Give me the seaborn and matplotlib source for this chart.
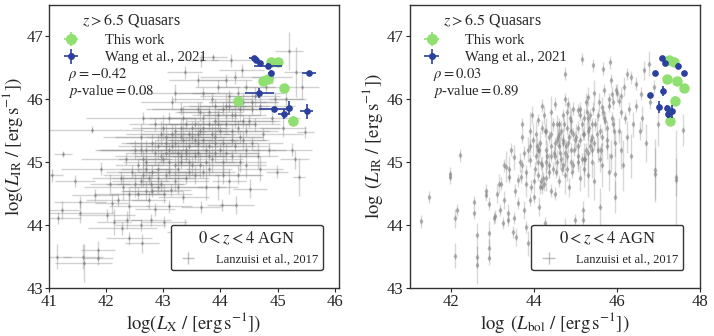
import matplotlib
matplotlib.use("Agg")
import matplotlib.pyplot as plt
import seaborn as sns
import pandas as pd

# ---- z > 6.5 quasars ----
tw_lx = [44.30, 44.74, 44.84, 44.89, 45.01, 45.11, 45.27]
tw_lbol = [47.28, 47.20, 47.46, 47.26, 47.38, 47.63, 47.41]
tw_lir = [45.97, 46.29, 46.32, 46.59, 46.60, 46.18, 45.65]
tw_lir_r = [45.65, 46.32, 46.29, 46.62, 46.60, 46.18, 45.97]
tw_err = [0.05, 0.05, 0.05, 0.05, 0.05, 0.05, 0.08]

wang_lx = [44.58, 44.63, 44.70, 44.83, 44.89, 45.55, 44.68, 44.93, 45.20, 45.11, 45.51]
wang_lx_err = [0.08, 0.05, 0.05, 0.25, 0.05, 0.12, 0.25, 0.25, 0.06, 0.10, 0.12]
wang_lir = [46.65, 46.63, 46.58, 46.53, 46.42, 46.42, 46.10, 45.85, 45.87, 45.76, 45.81]
wang_lir_err = [0.02, 0.02, 0.02, 0.05, 0.05, 0.02, 0.08, 0.02, 0.10, 0.08, 0.12]

wang_lbol = [47.08, 47.17, 47.48, 47.61, 46.91, 47.12, 46.81, 47.01, 47.20, 47.33, 47.23]
wang_lir_r = [46.65, 46.58, 46.53, 46.42, 46.42, 46.13, 46.07, 45.88, 45.86, 45.81, 45.76]
wang_lir_r_err = [0.02, 0.02, 0.05, 0.02, 0.02, 0.08, 0.02, 0.10, 0.05, 0.10, 0.05]

# ---- 0 < z < 4 AGN (Lanzuisi et al. 2017), L_X panel ----
agn_lx = [
    41.04, 41.13, 41.16, 41.22, 41.24, 41.45,
    41.54, 41.54, 41.59, 41.60, 41.75, 41.80, 41.85, 41.86, 41.90,
    42.01, 42.07, 42.13, 42.28, 42.37, 42.40, 42.20, 42.30, 42.45, 42.10, 42.35, 42.40, 42.25, 42.50,
    42.63, 42.60, 42.78, 42.78, 42.55, 42.65, 42.70, 42.80, 42.90, 42.95, 42.60, 42.75, 42.85, 42.90, 42.70, 42.55, 42.95, 42.65, 42.85,
    43.01, 43.01, 43.13, 43.37, 43.05, 43.10, 43.15, 43.20, 43.25, 43.30, 43.35, 43.40, 43.45, 43.05, 43.10, 43.20, 43.30, 43.40, 43.45, 43.15, 43.25, 43.35, 43.05, 43.20, 43.37, 43.45, 43.30, 43.10,
    43.66, 43.66, 43.87, 43.55, 43.60, 43.65, 43.70, 43.75, 43.80, 43.85, 43.90, 43.95, 43.55, 43.60, 43.70, 43.75, 43.80, 43.90, 43.95, 43.55, 43.65, 43.85, 43.70, 43.60, 43.80, 43.90, 43.95, 43.50,
    44.02, 44.28, 44.19, 44.37, 44.05, 44.10, 44.15, 44.20, 44.25, 44.30, 44.35, 44.40, 44.45, 44.05, 44.10, 44.20, 44.30, 44.40, 44.15, 44.45, 44.25, 44.35, 44.05, 44.45,
    44.52, 44.99, 44.55, 44.60, 44.70, 44.80, 44.65, 44.75, 44.90, 44.60, 44.85, 44.95, 44.55, 44.70, 44.90,
    45.20, 45.32, 45.43, 45.49, 45.38, 45.10, 45.25, 45.15, 45.30,
    42.60, 42.70, 42.80, 42.90, 43.00, 43.10, 43.20, 43.30, 43.40, 43.50, 43.60, 43.70, 43.80, 43.90, 44.00, 44.10, 44.20, 44.30, 44.40, 44.50,
    42.65, 42.75, 42.85, 42.95, 43.05, 43.15, 43.25, 43.35, 43.45, 43.55, 43.65, 43.75, 43.85, 43.95, 44.05, 44.15, 44.25, 44.35, 44.45, 44.55,
    42.40, 42.50, 42.60, 42.70, 42.80, 42.90, 43.00, 43.10, 43.20, 43.30, 43.40, 43.50, 43.60, 43.70, 43.80, 43.90, 44.00, 44.10, 44.20, 44.30,
]
agn_lx_err = [
    0.20, 0.25, 0.40, 0.30, 0.15, 0.35,
    0.45, 0.60, 0.35, 0.50, 0.90, 0.40, 0.30, 0.25, 0.70,
    0.50, 0.35, 0.30, 0.60, 0.25, 0.40, 0.55, 0.70, 0.45, 0.30, 0.80, 0.35, 0.50, 0.60,
    0.30, 0.45, 0.35, 0.60, 0.50, 0.70, 0.40, 0.55, 0.35, 0.80, 0.65, 0.30, 0.45, 0.50, 0.90, 0.40, 0.60, 1.00, 0.35,
    0.40, 0.50, 0.35, 0.30, 0.60, 0.45, 0.70, 0.55, 0.40, 0.80, 0.50, 0.65, 0.35, 0.90, 0.45, 0.60, 0.50, 0.40, 0.75, 0.55, 0.35, 0.45, 0.60, 0.70, 0.30, 0.50, 0.85, 0.40,
    0.35, 0.30, 0.25, 0.55, 0.70, 0.45, 0.60, 0.50, 0.80, 0.40, 0.55, 0.65, 0.45, 0.90, 0.50, 0.35, 0.60, 0.75, 0.40, 0.55, 0.45, 0.70, 0.60, 0.50, 0.40, 0.85, 0.35, 0.60,
    0.25, 0.30, 0.35, 0.40, 0.60, 0.50, 0.70, 0.45, 0.55, 0.80, 0.40, 0.60, 0.50, 0.35, 0.45, 0.65, 0.40, 0.55, 0.30, 0.50, 0.60, 0.45, 0.75, 0.35,
    0.30, 0.20, 0.55, 0.45, 0.60, 0.40, 0.35, 0.70, 0.50, 0.45, 0.30, 0.55, 0.65, 0.40, 0.35,
    0.25, 0.20, 0.30, 0.15, 0.10, 0.40, 0.35, 0.30, 0.25,
    0.50, 0.40, 0.60, 0.70, 0.45, 0.55, 0.80, 0.40, 0.65, 0.50, 0.60, 0.45, 0.70, 0.55, 0.40, 0.60, 0.50, 0.75, 0.45, 0.55,
    0.45, 0.65, 0.50, 0.40, 0.70, 0.55, 0.45, 0.60, 0.80, 0.50, 0.40, 0.65, 0.55, 0.45, 0.70, 0.50, 0.60, 0.40, 0.55, 0.45,
    0.60, 0.50, 0.75, 0.45, 0.55, 0.65, 0.40, 0.70, 0.50, 0.60, 0.45, 0.85, 0.55, 0.40, 0.65, 0.50, 0.70, 0.45, 0.60, 0.50,
]
agn_lir = [
    44.79, 43.50, 44.11, 44.24, 45.13, 44.70,
    44.37, 44.19, 43.50, 43.40, 45.52, 44.48, 43.60, 43.47, 44.90,
    44.16, 44.66, 44.05, 43.95, 44.08, 43.79, 44.40, 44.60, 44.85, 44.35, 45.05, 44.30, 44.75, 45.20,
    43.71, 44.00, 44.08, 44.66, 44.50, 44.80, 45.00, 45.30, 44.90, 45.10, 45.40, 44.40, 45.60, 44.60, 45.20, 44.95, 45.45, 45.70, 44.25,
    44.05, 44.50, 44.56, 43.89, 44.80, 45.00, 45.25, 45.50, 44.90, 45.10, 45.35, 45.60, 45.00, 45.40, 45.70, 44.70, 45.85, 44.75, 45.25, 45.95, 45.15, 44.45, 45.15, 46.10, 46.43, 45.45, 45.55, 44.30,
    44.29, 46.62, 46.67, 45.10, 45.30, 45.50, 45.70, 45.00, 45.25, 45.45, 45.90, 45.60, 44.80, 45.85, 46.10, 44.60, 45.80, 45.15, 46.20, 45.60, 44.95, 46.00, 45.35, 46.30, 44.90, 45.40, 44.60, 45.40,
    44.32, 44.32, 46.62, 46.46, 45.30, 45.60, 45.90, 45.10, 45.75, 46.10, 45.40, 45.95, 45.20, 45.00, 46.30, 45.50, 44.80, 45.65, 44.70, 46.20, 46.35, 45.00, 45.85, 44.95,
    44.58, 44.85, 45.30, 45.60, 45.90, 46.20, 45.10, 45.45, 45.70, 46.05, 45.20, 46.00, 45.85, 44.90, 46.35,
    46.77, 46.43, 46.20, 45.48, 44.77, 45.55, 45.20, 46.00, 45.05,
    44.70, 44.55, 44.85, 45.25, 45.05, 44.85, 45.30, 45.00, 45.20, 45.55, 45.15, 44.85, 45.60, 45.30, 45.50, 45.15, 45.75, 45.55, 45.35, 45.65,
    45.05, 44.75, 45.15, 44.65, 45.30, 45.45, 44.60, 45.70, 44.85, 45.35, 45.80, 45.20, 45.05, 45.75, 44.80, 46.05, 45.25, 45.85, 45.50, 45.95,
    44.50, 44.65, 45.20, 44.90, 44.55, 44.75, 45.55, 45.20, 44.95, 45.40, 45.15, 44.95, 45.45, 45.55, 45.10, 45.65, 45.20, 45.90, 45.35, 45.95,
]
agn_lir_err = [
    0.10, 0.20, 0.10, 0.15, 0.05, 0.10,
    0.10, 0.15, 0.20, 0.30, 0.05, 0.10, 0.15, 0.10, 0.10,
    0.10, 0.15, 0.20, 0.10, 0.15, 0.10, 0.10, 0.20, 0.10, 0.15, 0.10, 0.20, 0.10, 0.15,
    0.15, 0.10, 0.10, 0.15, 0.10, 0.20, 0.10, 0.15, 0.10, 0.10, 0.20, 0.15, 0.10, 0.10, 0.15, 0.10, 0.20, 0.10, 0.10,
    0.10, 0.15, 0.10, 0.20, 0.10, 0.15, 0.10, 0.10, 0.20, 0.10, 0.15, 0.10, 0.10, 0.20, 0.10, 0.15, 0.10, 0.10, 0.15, 0.10, 0.20, 0.10, 0.10, 0.15, 0.10, 0.10, 0.15, 0.10,
    0.10, 0.10, 0.05, 0.10, 0.15, 0.10, 0.10, 0.20, 0.10, 0.15, 0.10, 0.10, 0.15, 0.10, 0.10, 0.20, 0.10, 0.15, 0.10, 0.10, 0.20, 0.10, 0.15, 0.10, 0.10, 0.10, 0.20, 0.10,
    0.10, 0.15, 0.10, 0.10, 0.10, 0.15, 0.10, 0.10, 0.20, 0.10, 0.10, 0.15, 0.10, 0.20, 0.10, 0.10, 0.15, 0.10, 0.20, 0.10, 0.10, 0.15, 0.10, 0.20,
    0.15, 0.10, 0.10, 0.10, 0.15, 0.10, 0.20, 0.10, 0.10, 0.15, 0.10, 0.10, 0.10, 0.20, 0.10,
    0.30, 0.40, 0.20, 0.10, 0.30, 0.15, 0.10, 0.20, 0.15,
    0.10, 0.15, 0.10, 0.20, 0.10, 0.10, 0.15, 0.10, 0.20, 0.10, 0.15, 0.10, 0.10, 0.20, 0.10, 0.15, 0.10, 0.10, 0.15, 0.10,
    0.15, 0.10, 0.20, 0.10, 0.10, 0.15, 0.10, 0.20, 0.10, 0.10, 0.15, 0.10, 0.20, 0.10, 0.15, 0.10, 0.10, 0.20, 0.10, 0.15,
    0.10, 0.20, 0.10, 0.15, 0.10, 0.10, 0.20, 0.10, 0.15, 0.10, 0.10, 0.15, 0.20, 0.10, 0.10, 0.15, 0.10, 0.20, 0.10, 0.10,
]

# ---- 0 < z < 4 AGN, L_bol panel ----
agn_lbol = [
    41.28, 41.46, 41.98, 41.98,
    42.20, 42.10, 42.14, 42.10,
    42.54, 42.54, 42.61, 42.63, 42.63, 42.83, 42.91, 42.92, 42.92, 42.92, 42.85,
    43.03, 43.06, 43.15, 43.18, 43.24, 43.28, 43.28, 43.40, 43.40, 43.37, 43.37, 43.48, 43.20, 43.32, 43.45, 43.10,
    43.52, 43.56, 43.60, 43.52, 43.68, 43.72, 43.76, 43.80, 43.85, 43.89, 43.93, 43.97, 43.55, 43.65, 43.70, 43.80, 43.85, 43.90, 43.95, 43.60, 43.75, 43.90,
    44.01, 44.13, 44.27, 44.33, 44.17, 44.09, 44.05, 44.10, 44.15, 44.20, 44.25, 44.30, 44.35, 44.40, 44.45, 44.20, 44.30, 44.40, 44.45, 44.05, 44.15, 44.25, 44.35, 44.50, 44.10, 44.30, 44.40, 44.20,
    44.50, 44.50, 44.74, 44.74, 44.82, 44.55, 44.60, 44.65, 44.70, 44.75, 44.80, 44.85, 44.90, 44.95, 44.55, 44.60, 44.65, 44.70, 44.75, 44.80, 44.85, 44.90, 44.95, 44.60, 44.70, 44.80, 44.90, 44.55, 44.75, 44.95,
    45.19, 45.19, 44.98, 45.16, 45.43, 45.31, 45.07, 45.05, 45.10, 45.15, 45.20, 45.25, 45.30, 45.35, 45.40, 45.45, 45.05, 45.10, 45.20, 45.25, 45.30, 45.35, 45.40, 45.45, 45.15, 45.30, 45.45, 45.05, 45.20, 45.40,
    45.59, 45.96, 45.95, 45.84, 45.67, 45.63, 45.88, 45.55, 45.60, 45.65, 45.70, 45.75, 45.80, 45.85, 45.90, 45.95, 45.55, 45.70, 45.80, 45.90, 45.60, 45.75, 45.85, 45.65,
    46.04, 46.16, 46.33, 46.45, 46.05, 46.10, 46.20, 46.25, 46.30, 46.40, 46.15, 46.35, 46.45, 46.10, 46.25,
    46.57, 46.65, 46.77, 46.93, 46.93, 47.42, 47.42, 47.59, 46.60, 46.70, 46.80, 46.55, 46.90, 47.00,
    44.02, 44.12, 44.22, 44.32, 44.42, 44.52, 44.62, 44.72, 44.82, 44.92, 45.02, 45.12, 45.22, 45.32, 45.42, 45.52, 45.62, 45.72, 45.82, 45.92,
    44.07, 44.17, 44.27, 44.37, 44.47, 44.57, 44.67, 44.77, 44.87, 44.97, 45.07, 45.17, 45.27, 45.37, 45.47, 45.57, 45.67, 45.77, 45.87, 45.97,
    43.70, 43.80, 43.90, 44.00, 44.10, 44.20, 44.30, 44.40, 44.50, 44.60, 44.70, 44.80, 44.90, 45.00, 45.10, 45.20, 45.30, 45.40, 46.00, 46.10,
]
agn_lir_b = [
    44.06, 44.45, 44.82, 44.76,
    45.11, 44.11, 44.24, 43.51,
    44.37, 44.19, 43.84, 43.50, 43.37, 44.48, 44.34, 43.87, 43.63, 43.47, 44.55,
    44.11, 44.14, 44.66, 44.24, 44.03, 44.40, 44.95, 44.90, 44.77, 44.19, 44.08, 43.89, 44.66, 44.93, 45.20, 44.50,
    44.11, 43.81, 44.71, 45.08, 44.77, 45.40, 44.24, 43.97, 43.71, 45.03, 44.61, 45.35, 44.55, 45.00, 45.60, 44.85, 45.20, 44.40, 45.75, 44.35, 45.15, 45.50,
    44.45, 44.29, 44.03, 43.79, 44.98, 45.67, 45.10, 44.80, 45.30, 45.55, 44.65, 45.00, 45.40, 45.80, 44.90, 45.90, 45.20, 44.55, 45.60, 45.45, 44.60, 45.75, 44.85, 45.30, 45.20, 45.50, 45.10, 44.95,
    44.50, 45.93, 46.41, 43.97, 45.93, 45.00, 45.25, 45.50, 45.75, 44.80, 45.10, 45.40, 45.65, 44.95, 45.60, 44.70, 45.05, 45.30, 46.00, 45.55, 44.60, 45.20, 45.85, 45.45, 44.95, 45.80, 45.00, 45.35, 45.15, 45.45,
    44.24, 44.08, 44.08, 46.64, 46.54, 46.04, 45.83, 45.10, 45.35, 45.60, 44.90, 45.20, 45.50, 45.75, 45.00, 45.30, 45.55, 44.75, 45.45, 45.95, 44.80, 45.25, 45.60, 46.10, 45.05, 45.15, 44.70, 45.25, 45.70, 45.40,
    44.29, 44.82, 44.45, 46.59, 46.49, 45.88, 46.09, 45.20, 45.50, 44.95, 45.70, 45.35, 45.90, 45.10, 45.60, 45.30, 45.75, 46.15, 44.85, 45.95, 45.05, 45.55, 46.30, 45.40,
    45.98, 46.20, 46.35, 46.25, 45.50, 45.20, 45.70, 45.40, 45.85, 45.60, 44.95, 45.10, 45.90, 46.05, 46.40,
    46.09, 46.46, 46.57, 44.82, 44.87, 44.71, 44.77, 45.51, 45.70, 45.30, 45.95, 45.50, 46.20, 45.60,
    44.90, 45.20, 44.75, 45.10, 45.45, 44.85, 45.15, 45.60, 45.30, 44.85, 45.40, 45.75, 45.05, 45.55, 45.85, 45.45, 45.20, 45.65, 46.00, 45.50,
    45.25, 44.70, 45.50, 44.95, 45.15, 45.40, 44.90, 45.25, 45.70, 45.20, 45.00, 45.45, 45.80, 45.35, 45.60, 45.95, 45.80, 45.25, 45.70, 46.15,
    44.95, 44.65, 45.25, 44.70, 45.00, 44.60, 44.75, 45.25, 45.10, 45.60, 45.35, 44.90, 45.50, 45.35, 45.85, 45.05, 45.70, 45.20, 46.10, 45.80,
]
agn_lir_b_err = [
    0.10, 0.10, 0.10, 0.10,
    0.10, 0.15, 0.10, 0.20,
    0.10, 0.10, 0.20, 0.15, 0.30, 0.10, 0.10, 0.20, 0.15, 0.10, 0.10,
    0.10, 0.10, 0.15, 0.10, 0.10, 0.15, 0.10, 0.20, 0.10, 0.15, 0.10, 0.10, 0.10, 0.25, 0.10, 0.15,
    0.10, 0.15, 0.10, 0.20, 0.10, 0.10, 0.15, 0.10, 0.20, 0.10, 0.10, 0.25, 0.10, 0.15, 0.10, 0.10, 0.20, 0.10, 0.15, 0.10, 0.10, 0.30,
    0.10, 0.15, 0.10, 0.20, 0.10, 0.10, 0.15, 0.10, 0.20, 0.10, 0.10, 0.15, 0.10, 0.25, 0.10, 0.10, 0.15, 0.10, 0.10, 0.20, 0.10, 0.15, 0.10, 0.10, 0.10, 0.20, 0.10, 0.15,
    0.10, 0.10, 0.10, 0.15, 0.10, 0.20, 0.10, 0.15, 0.10, 0.30, 0.10, 0.10, 0.20, 0.10, 0.15, 0.10, 0.10, 0.25, 0.10, 0.10, 0.15, 0.10, 0.10, 0.20, 0.10, 0.15, 0.10, 0.10, 0.20, 0.10,
    0.15, 0.10, 0.10, 0.10, 0.10, 0.15, 0.10, 0.20, 0.10, 0.10, 0.30, 0.10, 0.15, 0.10, 0.25, 0.10, 0.10, 0.20, 0.10, 0.15, 0.35, 0.10, 0.10, 0.20, 0.10, 0.40, 0.30, 0.10, 0.15, 0.10,
    0.30, 0.40, 0.25, 0.10, 0.10, 0.15, 0.10, 0.20, 0.10, 0.35, 0.10, 0.15, 0.10, 0.25, 0.10, 0.20, 0.10, 0.10, 0.30, 0.10, 0.20, 0.10, 0.10, 0.15,
    0.10, 0.15, 0.10, 0.10, 0.20, 0.30, 0.10, 0.25, 0.10, 0.20, 0.40, 0.35, 0.10, 0.15, 0.10,
    0.10, 0.15, 0.20, 0.40, 0.50, 0.80, 0.30, 0.25, 0.20, 0.30, 0.10, 0.15, 0.10, 0.35,
    0.10, 0.15, 0.10, 0.20, 0.10, 0.10, 0.25, 0.10, 0.15, 0.10, 0.20, 0.10, 0.10, 0.15, 0.10, 0.30, 0.10, 0.15, 0.10, 0.20,
    0.15, 0.10, 0.10, 0.20, 0.10, 0.15, 0.10, 0.10, 0.20, 0.10, 0.15, 0.10, 0.25, 0.10, 0.10, 0.15, 0.10, 0.20, 0.10, 0.10,
    0.10, 0.20, 0.10, 0.15, 0.10, 0.10, 0.20, 0.10, 0.15, 0.10, 0.10, 0.20, 0.10, 0.15, 0.10, 0.25, 0.10, 0.10, 0.15, 0.10,
]

stats_left = r"$\rho=-0.42$" + "\n" + r"$p$-value$=0.08$"
stats_right = r"$\rho=0.03$" + "\n" + r"$p$-value$=0.89$"

sns.set_style("ticks")
plt.rcParams["font.family"] = ["Liberation Serif", "DejaVu Serif"]
plt.rcParams["mathtext.fontset"] = "stix"

GREEN = "#8fe070"
BLUE = "#2b3f9c"
GRAY = "#808080"

fig = plt.figure(figsize=(7.14, 3.36), dpi=100)
ax1 = fig.add_axes([0.069, 0.143, 0.406, 0.842])
ax2 = fig.add_axes([0.574, 0.143, 0.406, 0.842])

left_df = pd.DataFrame({"x": agn_lx, "y": agn_lir})
right_df = pd.DataFrame({"x": agn_lbol, "y": agn_lir_b})

# background AGN
ax1.errorbar(agn_lx, agn_lir, xerr=agn_lx_err, yerr=agn_lir_err, fmt="none",
             ecolor=GRAY, elinewidth=1.0, alpha=0.35, zorder=1)
sns.scatterplot(data=left_df, x="x", y="y", ax=ax1, color=GRAY, marker="d",
                s=6, alpha=0.7, linewidth=0, legend=False, zorder=2)
ax2.errorbar(agn_lbol, agn_lir_b, yerr=agn_lir_b_err, fmt="none",
             ecolor=GRAY, elinewidth=1.0, alpha=0.3, zorder=1)
sns.scatterplot(data=right_df, x="x", y="y", ax=ax2, color=GRAY, marker="d",
                s=11, alpha=0.6, linewidth=0, legend=False, zorder=2)

# quasars
ax1.errorbar(tw_lx, tw_lir, xerr=tw_err, yerr=tw_err, fmt="o", color=GREEN,
             ms=6.5, elinewidth=1.2, zorder=4)
ax1.errorbar(wang_lx, wang_lir, xerr=wang_lx_err, yerr=wang_lir_err, fmt="o",
             color=BLUE, ms=3.8, elinewidth=1.2, zorder=5)
ax2.errorbar(tw_lbol, tw_lir_r, yerr=tw_err, fmt="o", color=GREEN,
             ms=6.5, elinewidth=1.2, zorder=4)
ax2.errorbar(wang_lbol, wang_lir_r, yerr=wang_lir_r_err, fmt="o",
             color=BLUE, ms=3.8, elinewidth=1.2, zorder=5)

for ax, stats, stats_x, xlab, ylab, xlim, xticks in [
    (ax1, stats_left, 0.065, r"$\log(L_{\rm X}\ /\ [{\rm erg\,s^{-1}}])$",
     r"$\log(L_{\rm IR}\ /\ [{\rm erg\,s^{-1}}])$", (41, 46.08), [41, 42, 43, 44, 45, 46]),
    (ax2, stats_right, 0.08, r"$\log\ (L_{\rm bol}\ /\ [{\rm erg\,s^{-1}}])$",
     r"$\log\ (L_{\rm IR}\ /\ [{\rm erg\,s^{-1}}])$", (41, 48), [42, 44, 46, 48]),
]:
    ax.set_xlim(*xlim)
    ax.set_ylim(43, 47.5)
    ax.set_xticks(xticks)
    ax.set_yticks([43, 44, 45, 46, 47])
    ax.tick_params(labelsize=12, direction="out", length=3, width=0.8, pad=1.5)
    ax.set_xlabel(xlab, fontsize=13.5, labelpad=0)
    ax.set_ylabel(ylab, fontsize=13.5, labelpad=1)
    for sp in ax.spines.values():
        sp.set_visible(True)
        sp.set_color("#333333")
        sp.set_linewidth(1.0)

    # upper-left legend for the quasars
    qso_green = ax.errorbar([], [], xerr=[], yerr=[], fmt="o", color=GREEN, ms=7,
                            elinewidth=1.2, label="This work")
    qso_blue = ax.errorbar([], [], xerr=[], yerr=[], fmt="o", color=BLUE, ms=4,
                           elinewidth=1.2, label="Wang et al., 2021")
    leg1 = ax.legend(handles=[qso_green, qso_blue], loc="upper left",
                     frameon=False, title=r"$z>6.5$ Quasars", fontsize=10.5,
                     title_fontsize=11.5, borderaxespad=0.2, handletextpad=1.3,
                     labelspacing=0.3, borderpad=0.3)
    ax.add_artist(leg1)
    ax.text(stats_x, 0.785, stats, transform=ax.transAxes, fontsize=10.5,
            va="top", ha="left", linespacing=1.0)

    # lower-right legend for AGN
    agn_leg = ax.errorbar([], [], xerr=[], yerr=[], fmt="none", ecolor=GRAY,
                          elinewidth=1.0, alpha=0.5, label="Lanzuisi et al., 2017")
    leg2 = ax.legend(handles=[agn_leg], loc="lower right",
                     bbox_to_anchor=(0.965, 0.04), frameon=True,
                     title=r"$0<z<4$ AGN", fontsize=9, title_fontsize=12,
                     handletextpad=1.2, borderpad=0.4)
    leg2.get_frame().set_edgecolor("#333333")
    leg2.get_frame().set_linewidth(1.0)
    leg2.get_frame().set_alpha(1)

fig.savefig("out.png", dpi=100)
